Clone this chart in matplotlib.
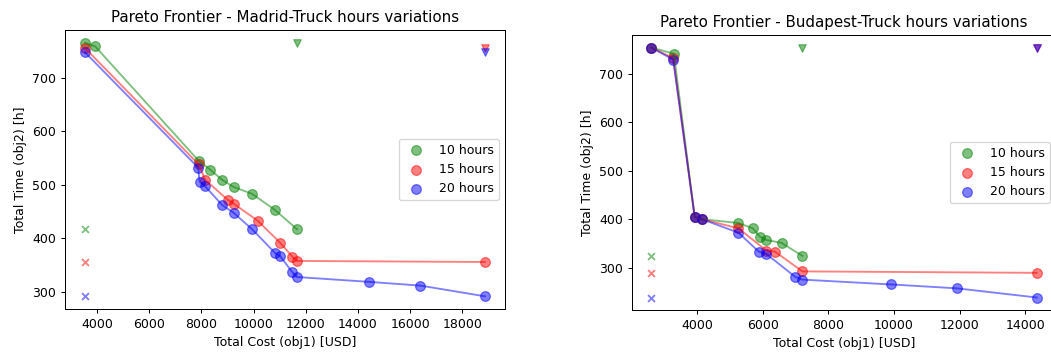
import numpy as np
import matplotlib
matplotlib.use("Agg")
import matplotlib.pyplot as plt

labels = ["10 hours", "15 hours", "20 hours"]
colors = ["g", "r", "b"]

# Madrid
mad_cost_10 = [3543, 3934, 7895, 8348, 8805, 9234, 9949, 10824, 11668]
mad_time_10 = [765, 758, 545, 528, 509, 496, 483, 453, 417]
mad_cost_15 = [3543, 7900, 8152, 9012, 9234, 10160, 11020, 11488, 11668, 18871]
mad_time_15 = [755, 538, 509, 472, 465, 433, 392, 366, 358, 356]
mad_cost_20 = [3543, 7880, 7933, 8129, 8805, 9234, 9949, 10824, 11020, 11488,
               11668, 14418, 16395, 18871]
mad_time_20 = [747, 532, 506, 498, 462, 448, 417, 373, 367, 337,
               328, 319, 312, 292]

# Budapest
bud_cost_10 = [2595, 3284, 3919, 4135, 5256, 5697, 5903, 6107, 6569, 7207]
bud_time_10 = [755, 742, 405, 400, 392, 381, 364, 357, 351, 324]
bud_cost_15 = [2595, 3263, 3919, 4135, 5256, 6107, 6365, 7207, 14354]
bud_time_15 = [755, 733, 405, 400, 381, 335, 333, 292, 289]
bud_cost_20 = [2595, 3263, 3919, 4135, 5256, 5872, 6107, 6981, 7207, 9908,
               11911, 14354]
bud_time_20 = [755, 730, 405, 400, 372, 333, 328, 281, 275, 265,
               257, 238]

madrid = [(mad_cost_10, mad_time_10), (mad_cost_15, mad_time_15), (mad_cost_20, mad_time_20)]
budapest = [(bud_cost_10, bud_time_10), (bud_cost_15, bud_time_15), (bud_cost_20, bud_time_20)]

W, H, DPI = 1051, 358, 90
fig = plt.figure(figsize=(W / DPI, H / DPI), dpi=DPI)
ax1 = fig.add_axes([65 / W, 49 / H, 440 / W, 279 / H])
ax2 = fig.add_axes([632 / W, 48 / H, 424 / W, 275 / H])


def pareto(ax, series, city):
    for (cost, time), c, lab in zip(series, colors, labels):
        cost = np.array(cost)
        time = np.array(time)
        ax.plot(cost, time, color=c, alpha=0.5, linewidth=1.5)
        ax.scatter(cost, time, color=c, alpha=0.5, s=60, label=lab)
        # ideal point (min cost, min time) and nadir point (max cost, max time)
        ax.scatter(cost.min(), time.min(), color=c, alpha=0.5, marker="x", s=30)
        ax.scatter(cost.max(), time.max(), color=c, alpha=0.5, marker="v", s=36)
    ax.set_title("Pareto Frontier - " + city + "-Truck hours variations", fontsize=12)
    ax.set_xlabel("Total Cost (obj1) [USD]")
    ax.set_ylabel("Total Time (obj2) [h]")
    ax.legend(loc="center right")


pareto(ax1, madrid, "Madrid")
pareto(ax2, budapest, "Budapest")

plt.savefig("out.png", dpi=DPI)
